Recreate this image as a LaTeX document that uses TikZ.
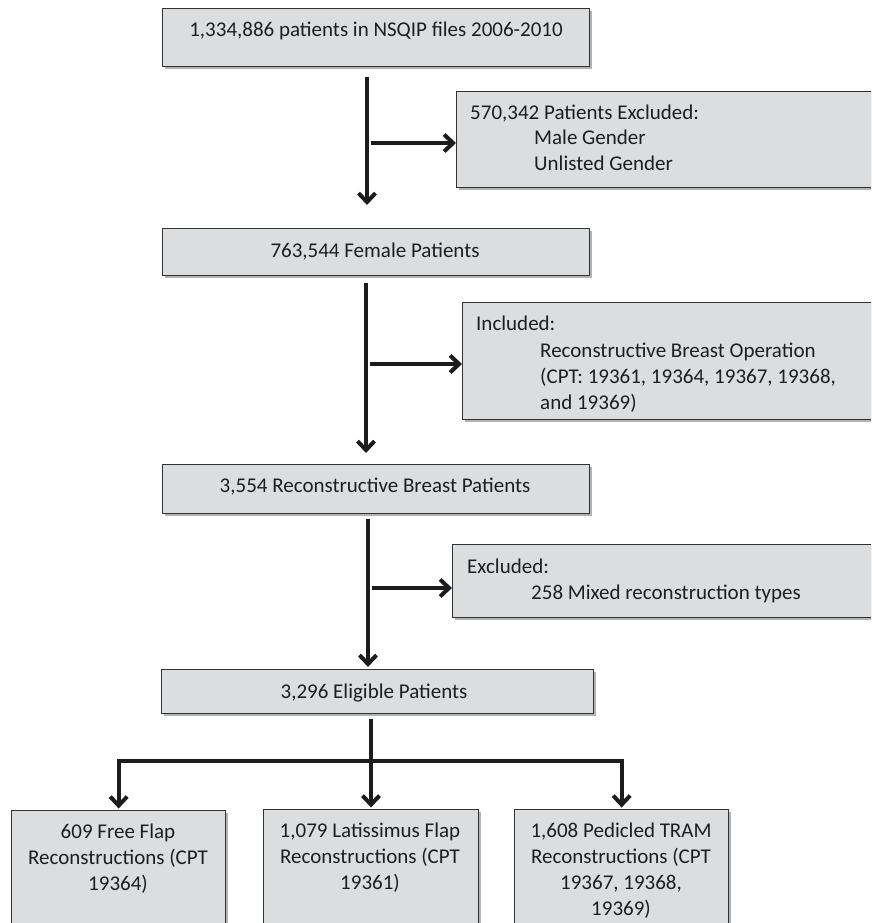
\documentclass[tikz,border=0pt]{standalone}
\usepackage{fontspec}
\setmainfont{Carlito}
\usetikzlibrary{arrows.meta,shadows}
\definecolor{boxfill}{RGB}{220,221,223}
\definecolor{boxline}{RGB}{50,50,50}
\definecolor{arrowcol}{RGB}{28,28,28}
\definecolor{txtcol}{RGB}{30,30,30}
\begin{document}
\begin{tikzpicture}[x=1pt,y=-1pt,
  box/.style={draw=boxline, line width=1.3pt, fill=boxfill, inner sep=0pt, anchor=north west,
    drop shadow={shadow xshift=2pt, shadow yshift=-2pt, fill=black!30, opacity=1}},
  txt/.style={inner sep=0pt, text=txtcol, font=\fontsize{21}{26}\selectfont},
  conn/.style={line width=4pt, draw=arrowcol, -{Straight Barb[length=9pt,width=17pt]}},
  plainline/.style={line width=4pt, draw=arrowcol}]
\path[use as bounding box, clip] (0,0) rectangle (871,923);
\fill[white] (0,0) rectangle (871,923);

% boxes
\node[box, minimum width=427pt, minimum height=58pt] (b1) at (162,8) {};
\node[box, minimum width=420pt, minimum height=96pt] (e1) at (456,91) {};
\node[box, minimum width=427pt, minimum height=47pt] (b2) at (162,228) {};
\node[box, minimum width=415pt, minimum height=117pt] (i1) at (462,302) {};
\node[box, minimum width=427pt, minimum height=49pt] (b3) at (162,464) {};
\node[box, minimum width=425pt, minimum height=73pt] (e2) at (452,544) {};
\node[box, minimum width=432pt, minimum height=44pt] (b4) at (161,669) {};
\node[box, minimum width=214pt, minimum height=130pt] (b5) at (11,810) {};
\node[box, minimum width=215pt, minimum height=130pt] (b6) at (263,809) {};
\node[box, minimum width=214pt, minimum height=130pt] (b7) at (514,809) {};

% texts
\node[txt, anchor=base] (t1) at (376,37) {1,334,886 patients in NSQIP files 2006-2010};
\node[txt, anchor=base west] (e1a) at (470,120) {570,342 Patients Excluded:};
\node[txt, anchor=base west] (e1b) at (534,145) {Male Gender};
\node[txt, anchor=base west] (e1c) at (534,170) {Unlisted Gender};
\node[txt, anchor=base] (t2) at (375,257) {763,544 Female Patients};
\node[txt, anchor=base west] (i1a) at (476,330) {Included:};
\node[txt, anchor=base west] (i1b) at (540,357) {Reconstructive Breast Operation};
\node[txt, anchor=base west] (i1c) at (540,383) {(CPT: 19361, 19364, 19367, 19368,};
\node[txt, anchor=base west] (i1d) at (540,409) {and 19369)};
\node[txt, anchor=base] (t3) at (375,492) {3,554 Reconstructive Breast Patients};
\node[txt, anchor=base west] (e2a) at (467,573) {Excluded:};
\node[txt, anchor=base west] (e2b) at (531,599) {258 Mixed reconstruction types};
\node[txt, anchor=base] (t4) at (374,698) {3,296 Eligible Patients};
\node[txt, anchor=north, align=center] (t5) at (118,824) {609 Free Flap\\Reconstructions (CPT\\19364)};
\node[txt, anchor=north, align=center] (t6) at (370,823) {1,079 Latissimus Flap\\Reconstructions (CPT\\19361)};
\node[txt, anchor=north, align=center] (t7) at (621,823) {1,608 Pedicled TRAM\\Reconstructions (CPT\\19367, 19368,\\19369)};

% connectors
\coordinate (j1) at (367,143);
\coordinate (j2) at (366,364);
\coordinate (j3) at (368,588);
\coordinate (bar) at (371,761);

\draw[conn] ([yshift=-10pt]b1.south -| j1) -- ([yshift=23pt]b2.north -| j1);
\draw[conn] ([xshift=4pt]j1) -- (e1.west |- j1);
\draw[conn] ([yshift=-7pt]b2.south -| j2) -- ([yshift=11pt]b3.north -| j2);
\draw[conn] ([xshift=4pt]j2) -- (i1.west |- j2);
\draw[conn] ([yshift=-5pt]b3.south -| j3) -- ([yshift=2pt]b4.north -| j3);
\draw[conn] ([xshift=4pt]j3) -- (e2.west |- j3);

\draw[plainline] ([yshift=-5pt]b4.south -| bar) -- (bar);
\draw[conn, shorten >=1.5pt] (bar) -| (b5.north);
\draw[conn, shorten >=1.5pt] (bar) -| (b7.north);
\draw[conn, shorten >=1.5pt] (bar) -- (b6.north -| bar);
\end{tikzpicture}
\end{document}
